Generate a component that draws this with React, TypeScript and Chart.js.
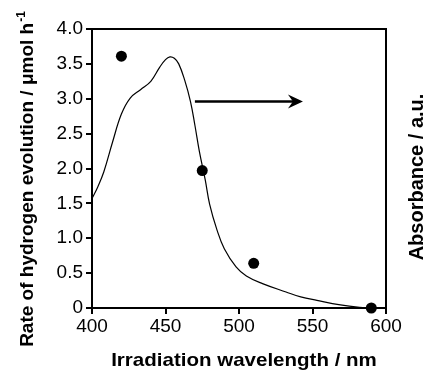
import React, { useEffect, useRef } from 'react';
import { Chart, registerables } from 'chart.js';

Chart.register(...registerables);

// Absorbance spectrum (plotted on the right, unlabelled axis, same 0–4 range)
const absWavelength = [400, 404, 408, 414, 420, 426, 433, 440, 446, 450, 453, 456, 459, 463, 467, 470, 473, 477, 480, 485, 490, 498, 505, 516, 532, 542, 553, 569, 582, 590];
const absValue = [1.57, 1.74, 1.95, 2.38, 2.78, 3.01, 3.13, 3.25, 3.45, 3.56, 3.60, 3.58, 3.50, 3.27, 2.96, 2.62, 2.25, 1.84, 1.49, 1.12, 0.85, 0.59, 0.46, 0.35, 0.23, 0.16, 0.11, 0.045, 0.01, 0.0];

// Hydrogen evolution rate (markers)
const rateWavelength = [420, 475, 510, 590];
const rateValue = [3.61, 1.97, 0.64, 0.0];

// Axis ranges
const xTicks = [400, 450, 500, 550, 600];
const yTicks = [0, 0.5, 1.0, 1.5, 2.0, 2.5, 3.0, 3.5, 4.0];

// Arrow pointing to the right axis (data coordinates)
const arrowFrom = [470, 2.96];
const arrowTo = [543.5, 2.96];

const xTitle = 'Irradiation wavelength / nm';
const yTitle = 'Rate of hydrogen evolution / \u03bcmol h';
const yTitleSup = '-1';
const y2Title = 'Absorbance / a.u.';

const FONT = '"Liberation Sans", Arial, Helvetica, sans-serif';

const decorPlugin = {
  id: 'decor',
  beforeDatasetsDraw(chart: any) {
    const { ctx, chartArea } = chart;
    ctx.save();
    ctx.strokeStyle = '#000';
    ctx.lineWidth = 2;
    ctx.strokeRect(chartArea.left, chartArea.top, chartArea.right - chartArea.left, chartArea.bottom - chartArea.top);
    ctx.restore();
  },
  afterDatasetsDraw(chart: any) {
    const { ctx } = chart;
    const xs = chart.scales.x;
    const ys = chart.scales.y;
    const x1 = xs.getPixelForValue(arrowFrom[0]);
    const y1 = ys.getPixelForValue(arrowFrom[1]);
    const x2 = xs.getPixelForValue(arrowTo[0]);
    const y2 = ys.getPixelForValue(arrowTo[1]);
    ctx.save();
    ctx.strokeStyle = '#000';
    ctx.fillStyle = '#000';
    ctx.lineWidth = 2.5;
    ctx.beginPath();
    ctx.moveTo(x1, y1);
    ctx.lineTo(x2 - 6, y2);
    ctx.stroke();
    ctx.beginPath();
    ctx.moveTo(x2, y2);
    ctx.lineTo(x2 - 15, y2 - 7);
    ctx.lineTo(x2 - 10, y2);
    ctx.lineTo(x2 - 15, y2 + 7);
    ctx.closePath();
    ctx.fill();
    ctx.restore();
  },
  afterDraw(chart: any) {
    const { ctx } = chart;
    ctx.save();
    ctx.fillStyle = '#000';
    // bottom title
    ctx.font = `bold 19px ${FONT}`;
    ctx.textAlign = 'center';
    ctx.textBaseline = 'alphabetic';
    ctx.save();
    ctx.translate(244, 366);
    ctx.scale(1.08, 1);
    ctx.fillText(xTitle, 0, 0);
    ctx.restore();

    // left title, rotated
    ctx.font = `bold 19px ${FONT}`;
    const mainW = ctx.measureText(yTitle).width;
    ctx.font = `bold 12px ${FONT}`;
    const supW = ctx.measureText(yTitleSup).width;
    const total = mainW + supW + 1;
    ctx.save();
    ctx.translate(33, 179);
    ctx.rotate(-Math.PI / 2);
    ctx.textAlign = 'left';
    ctx.font = `bold 19px ${FONT}`;
    ctx.fillText(yTitle, -total / 2, 0);
    ctx.font = `bold 12px ${FONT}`;
    ctx.fillText(yTitleSup, -total / 2 + mainW + 1, -8);
    ctx.restore();

    // right title, rotated
    ctx.font = `bold 20px ${FONT}`;
    ctx.save();
    ctx.translate(423, 177);
    ctx.rotate(-Math.PI / 2);
    ctx.textAlign = 'center';
    ctx.fillText(y2Title, 0, 0);
    ctx.restore();

    ctx.restore();
  },
};

export default function App() {
  const canvasRef = useRef<HTMLCanvasElement | null>(null);

  useEffect(() => {
    const canvas = canvasRef.current;
    if (!canvas) return;
    const chart = new Chart(canvas, {
      type: 'scatter',
      data: {
        datasets: [
          {
            type: 'line',
            label: 'Absorbance',
            data: absWavelength.map((x, i) => ({ x, y: absValue[i] })),
            yAxisID: 'y2',
            borderColor: '#000',
            borderWidth: 1.2,
            pointRadius: 0,
            fill: false,
            tension: 0.4,
            order: 2,
          } as any,
          {
            type: 'scatter',
            label: 'Rate',
            data: rateWavelength.map((x, i) => ({ x, y: rateValue[i] })),
            yAxisID: 'y',
            backgroundColor: '#000',
            borderColor: '#000',
            borderWidth: 0,
            pointRadius: 5.5,
            clip: false,
            order: 1,
          } as any,
        ],
      },
      options: {
        responsive: false,
        animation: false,
        layout: { padding: { top: 29, left: 0, right: 0, bottom: 0 } },
        plugins: {
          legend: { display: false },
          tooltip: { enabled: false },
        },
        scales: {
          x: {
            type: 'linear',
            position: 'bottom',
            min: xTicks[0],
            max: xTicks[xTicks.length - 1],
            afterBuildTicks: (s: any) => {
              s.ticks = xTicks.map((v) => ({ value: v }));
            },
            afterFit: (s: any) => {
              s.height = 62;
            },
            ticks: {
              color: '#000',
              font: { family: FONT, size: 19 },
              padding: 1,
              maxRotation: 0,
              callback: (v: any) => String(v),
            },
            grid: {
              display: true,
              drawOnChartArea: false,
              drawTicks: true,
              tickLength: 6,
              color: '#000',
              lineWidth: 2,
            },
            border: { display: false },
          },
          y: {
            type: 'linear',
            position: 'left',
            min: yTicks[0],
            max: yTicks[yTicks.length - 1],
            afterBuildTicks: (s: any) => {
              s.ticks = yTicks.map((v) => ({ value: v }));
            },
            afterFit: (s: any) => {
              s.width = 92;
            },
            ticks: {
              color: '#000',
              font: { family: FONT, size: 19 },
              padding: 3,
              callback: (v: any) => (Number(v) === 0 ? '0' : Number(v).toFixed(1)),
            },
            grid: {
              display: true,
              drawOnChartArea: false,
              drawTicks: true,
              tickLength: 6,
              color: '#000',
              lineWidth: 2,
            },
            border: { display: false },
          },
          y2: {
            type: 'linear',
            position: 'right',
            min: yTicks[0],
            max: yTicks[yTicks.length - 1],
            afterFit: (s: any) => {
              s.width = 38;
            },
            ticks: { display: false },
            grid: { display: false },
            border: { display: false },
          },
        },
      },
      plugins: [decorPlugin],
    });
    return () => chart.destroy();
  }, []);

  return (
    <div style={{ position: 'fixed', left: 0, top: 0, width: 424, height: 370, background: '#fff' }}>
      <canvas ref={canvasRef} width={424} height={370} />
    </div>
  );
}
